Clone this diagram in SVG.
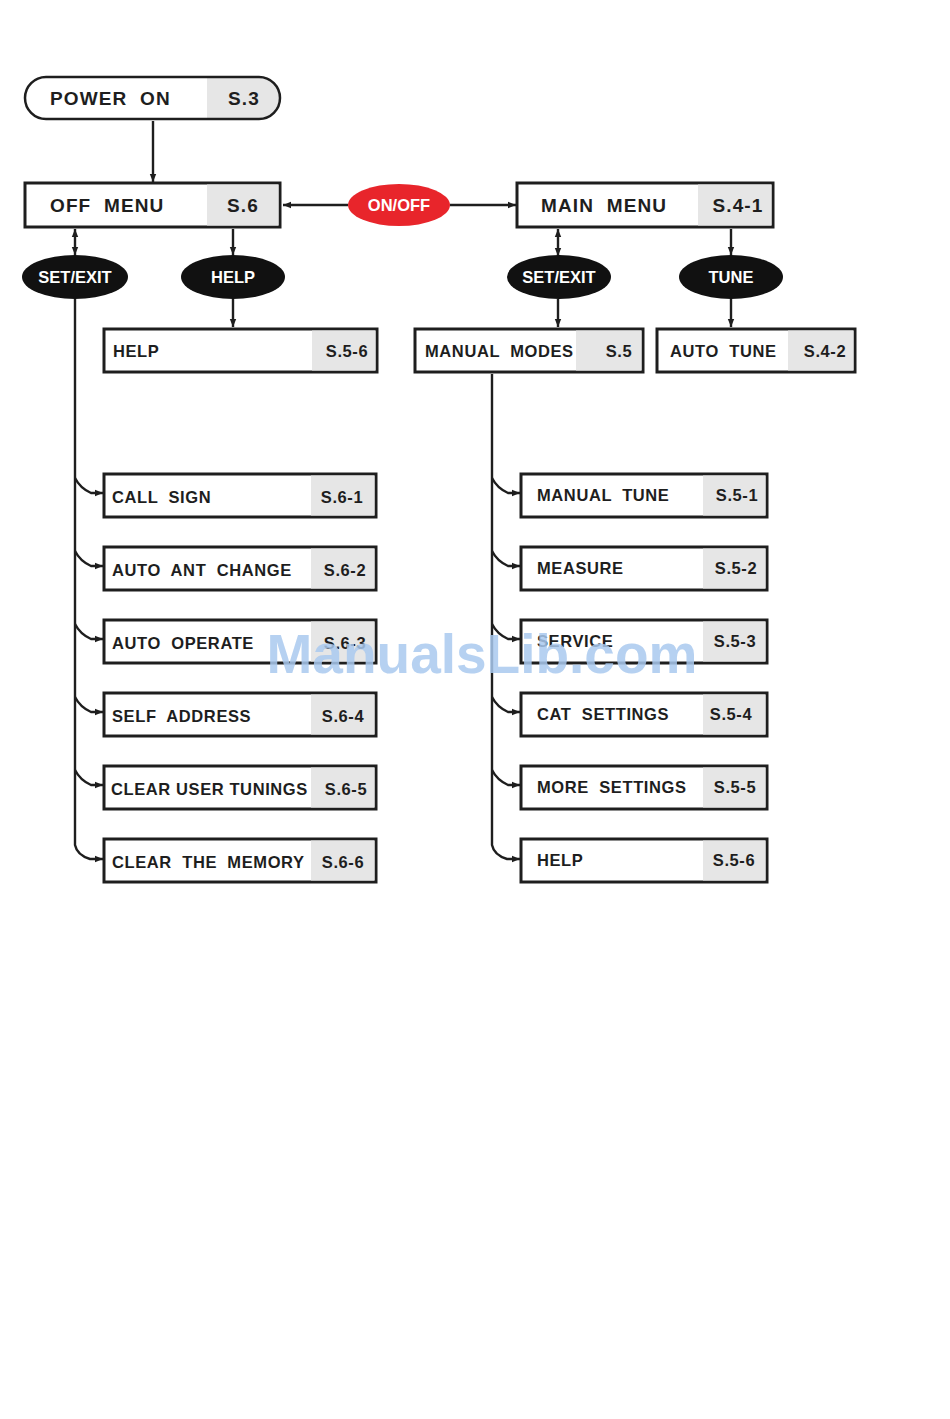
<svg xmlns="http://www.w3.org/2000/svg" width="950" height="1419" viewBox="0 0 950 1419">
<defs>
<marker id="arr" viewBox="0 0 10 10" refX="10" refY="5" markerWidth="8" markerHeight="8" markerUnits="userSpaceOnUse" orient="auto-start-reverse">
<path d="M0,1 L10,5 L0,9 z" fill="#1e1e1e"/>
</marker>
<style>
.box{fill:#ffffff;stroke:#1e1e1e;stroke-width:3}
.gray{fill:#e6e6e6}
.lbl{font-family:"Liberation Sans",Arial,sans-serif;font-weight:bold;fill:#1e1e1e}
.big{font-size:19px;letter-spacing:1.1px}
.sm{font-size:16.5px;letter-spacing:0.6px}
.ell{fill:#111111}
.etxt{font-family:"Liberation Sans",Arial,sans-serif;font-weight:bold;font-size:16.5px;fill:#ffffff;text-anchor:middle}
.con{fill:none;stroke:#1e1e1e;stroke-width:2.4}
.mid{text-anchor:middle}
</style>
</defs>
<rect width="950" height="1419" fill="#ffffff"/>

<g id="connectors">
<path class="con" d="M153,121 V182" marker-end="url(#arr)"/>
<path class="con" d="M348,205 H283" marker-end="url(#arr)"/>
<path class="con" d="M450,205 H516" marker-end="url(#arr)"/>
<path class="con" d="M75,229 V255" marker-start="url(#arr)" marker-end="url(#arr)"/>
<path class="con" d="M233,229 V255" marker-end="url(#arr)"/>
<path class="con" d="M233,299 V327" marker-end="url(#arr)"/>
<path class="con" d="M558,229 V256" marker-start="url(#arr)" marker-end="url(#arr)"/>
<path class="con" d="M731,229 V255" marker-end="url(#arr)"/>
<path class="con" d="M558,299 V327" marker-end="url(#arr)"/>
<path class="con" d="M731,299 V327" marker-end="url(#arr)"/>
<path class="con" d="M75,299 V845 Q77,855 90,859 L103,859" marker-end="url(#arr)"/>
<path class="con" d="M75,478 Q80,488 91,493 L103,493" marker-end="url(#arr)"/>
<path class="con" d="M75,551 Q80,561 91,566 L103,566" marker-end="url(#arr)"/>
<path class="con" d="M75,624 Q80,634 91,639 L103,639" marker-end="url(#arr)"/>
<path class="con" d="M75,697 Q80,707 91,712 L103,712" marker-end="url(#arr)"/>
<path class="con" d="M75,770 Q80,780 91,785 L103,785" marker-end="url(#arr)"/>
<path class="con" d="M492,374 V845 Q494,855 507,859 L520,859" marker-end="url(#arr)"/>
<path class="con" d="M492,478 Q497,488 508,493 L520,493" marker-end="url(#arr)"/>
<path class="con" d="M492,551 Q497,561 508,566 L520,566" marker-end="url(#arr)"/>
<path class="con" d="M492,624 Q497,634 508,639 L520,639" marker-end="url(#arr)"/>
<path class="con" d="M492,697 Q497,707 508,712 L520,712" marker-end="url(#arr)"/>
<path class="con" d="M492,770 Q497,780 508,785 L520,785" marker-end="url(#arr)"/>
</g>

<g id="power-on">
<path d="M207,77 H259 A21,21 0 0 1 259,119 H207 z" class="gray"/>
<rect x="25" y="77" width="255" height="42" rx="21" ry="21" fill="none" stroke="#1e1e1e" stroke-width="2.5"/>
<text class="lbl big" x="50" y="105" xml:space="preserve">POWER  ON</text>
<text class="lbl big mid" x="244" y="105">S.3</text>
</g>

<g id="off-menu">
<rect class="box" x="25" y="183" width="255" height="44"/>
<rect class="gray" x="207" y="184.5" width="71.5" height="41"/>
<text class="lbl big" x="50" y="212" xml:space="preserve">OFF  MENU</text>
<text class="lbl big mid" x="243" y="212">S.6</text>
</g>

<g id="onoff">
<ellipse cx="399" cy="205" rx="51" ry="21" fill="#e8252b"/>
<text class="etxt" x="399" y="211">ON/OFF</text>
</g>

<g id="main-menu">
<rect class="box" x="517" y="183" width="256" height="44"/>
<rect class="gray" x="698" y="184.5" width="73.5" height="41"/>
<text class="lbl big" x="541" y="212" xml:space="preserve">MAIN  MENU</text>
<text class="lbl big mid" x="738" y="212">S.4-1</text>
</g>

<g id="set-exit-left">
<ellipse class="ell" cx="75" cy="277" rx="53" ry="22"/>
<text class="etxt" x="75" y="283">SET/EXIT</text>
</g>
<g id="help-btn">
<ellipse class="ell" cx="233" cy="277" rx="52" ry="22"/>
<text class="etxt" x="233" y="283">HELP</text>
</g>
<g id="set-exit-right">
<ellipse class="ell" cx="559" cy="277" rx="52" ry="22"/>
<text class="etxt" x="559" y="283">SET/EXIT</text>
</g>
<g id="tune-btn">
<ellipse class="ell" cx="731" cy="277" rx="52" ry="22"/>
<text class="etxt" x="731" y="283">TUNE</text>
</g>

<g id="help-box">
<rect class="box" x="104" y="329" width="273" height="43"/>
<rect class="gray" x="312" y="330.5" width="63.5" height="40"/>
<text class="lbl sm" x="113" y="357">HELP</text>
<text class="lbl sm mid" x="347" y="357">S.5-6</text>
</g>

<g id="manual-modes">
<rect class="box" x="415" y="329" width="228" height="43"/>
<rect class="gray" x="576" y="330.5" width="65.5" height="40"/>
<text class="lbl sm" x="425" y="357" xml:space="preserve">MANUAL  MODES</text>
<text class="lbl sm mid" x="619" y="357">S.5</text>
</g>

<g id="auto-tune">
<rect class="box" x="657" y="329" width="198" height="43"/>
<rect class="gray" x="788" y="330.5" width="65.5" height="40"/>
<text class="lbl sm" x="670" y="357" xml:space="preserve">AUTO  TUNE</text>
<text class="lbl sm mid" x="825" y="357">S.4-2</text>
</g>

<g id="call-sign">
<rect class="box" x="104" y="474" width="272" height="43"/>
<rect class="gray" x="311" y="475.5" width="63.5" height="40"/>
<text class="lbl sm" x="112" y="503" xml:space="preserve">CALL  SIGN</text>
<text class="lbl sm mid" x="342" y="503">S.6-1</text>
</g>
<g id="auto-ant-change">
<rect class="box" x="104" y="547" width="272" height="43"/>
<rect class="gray" x="311" y="548.5" width="63.5" height="40"/>
<text class="lbl sm" x="112" y="576" xml:space="preserve">AUTO  ANT  CHANGE</text>
<text class="lbl sm mid" x="345" y="576">S.6-2</text>
</g>
<g id="auto-operate">
<rect class="box" x="104" y="620" width="272" height="43"/>
<rect class="gray" x="311" y="621.5" width="63.5" height="40"/>
<text class="lbl sm" x="112" y="649" xml:space="preserve">AUTO  OPERATE</text>
<text class="lbl sm mid" x="345" y="649">S.6-3</text>
</g>
<g id="self-address">
<rect class="box" x="104" y="693" width="272" height="43"/>
<rect class="gray" x="311" y="694.5" width="63.5" height="40"/>
<text class="lbl sm" x="112" y="722" xml:space="preserve">SELF  ADDRESS</text>
<text class="lbl sm mid" x="343" y="722">S.6-4</text>
</g>
<g id="clear-user-tunings">
<rect class="box" x="104" y="766" width="272" height="43"/>
<rect class="gray" x="311" y="767.5" width="63.5" height="40"/>
<text class="lbl sm" x="111" y="795">CLEAR USER TUNINGS</text>
<text class="lbl sm mid" x="346" y="795">S.6-5</text>
</g>
<g id="clear-the-memory">
<rect class="box" x="104" y="839" width="272" height="43"/>
<rect class="gray" x="311" y="840.5" width="63.5" height="40"/>
<text class="lbl sm" x="112" y="868" xml:space="preserve">CLEAR  THE  MEMORY</text>
<text class="lbl sm mid" x="343" y="868">S.6-6</text>
</g>

<g id="manual-tune">
<rect class="box" x="521" y="474" width="246" height="43"/>
<rect class="gray" x="703" y="475.5" width="62.5" height="40"/>
<text class="lbl sm" x="537" y="501" xml:space="preserve">MANUAL  TUNE</text>
<text class="lbl sm mid" x="737" y="501">S.5-1</text>
</g>
<g id="measure">
<rect class="box" x="521" y="547" width="246" height="43"/>
<rect class="gray" x="703" y="548.5" width="62.5" height="40"/>
<text class="lbl sm" x="537" y="574">MEASURE</text>
<text class="lbl sm mid" x="736" y="574">S.5-2</text>
</g>
<g id="service">
<rect class="box" x="521" y="620" width="246" height="43"/>
<rect class="gray" x="703" y="621.5" width="62.5" height="40"/>
<text class="lbl sm" x="537" y="647">SERVICE</text>
<text class="lbl sm mid" x="735" y="647">S.5-3</text>
</g>
<g id="cat-settings">
<rect class="box" x="521" y="693" width="246" height="43"/>
<rect class="gray" x="703" y="694.5" width="62.5" height="40"/>
<text class="lbl sm" x="537" y="720" xml:space="preserve">CAT  SETTINGS</text>
<text class="lbl sm mid" x="731" y="720">S.5-4</text>
</g>
<g id="more-settings">
<rect class="box" x="521" y="766" width="246" height="43"/>
<rect class="gray" x="703" y="767.5" width="62.5" height="40"/>
<text class="lbl sm" x="537" y="793" xml:space="preserve">MORE  SETTINGS</text>
<text class="lbl sm mid" x="735" y="793">S.5-5</text>
</g>
<g id="help-2">
<rect class="box" x="521" y="839" width="246" height="43"/>
<rect class="gray" x="703" y="840.5" width="62.5" height="40"/>
<text class="lbl sm" x="537" y="866">HELP</text>
<text class="lbl sm mid" x="734" y="866">S.5-6</text>
</g>

<text x="482" y="673" text-anchor="middle" font-family="'Liberation Sans',Arial,sans-serif" font-weight="bold" font-size="55" fill="#a9c9ef" fill-opacity="0.85">ManualsLib.com</text>
</svg>
